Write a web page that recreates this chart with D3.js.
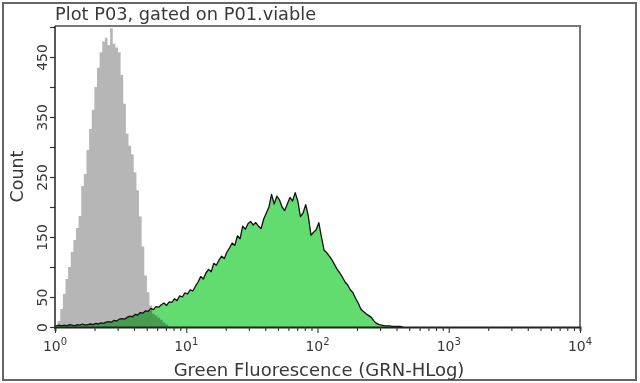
<!DOCTYPE html>
<html>
<head>
<meta charset="utf-8">
<script src="https://cdn.jsdelivr.net/npm/d3@7/dist/d3.min.js"></script>
<style>
  html, body { margin: 0; padding: 0; background: #fff; }
  svg { display: block; }
  text { font-family: "DejaVu Sans", Verdana, sans-serif; fill: #383838; }
</style>
</head>
<body>
<svg id="chart" width="640" height="383"></svg>
<script>
// ---- data ----
const title = "Plot P03, gated on P01.viable";
const xTitle = "Green Fluorescence (GRN-HLog)";
const yTitle = "Count";
const binsPerDecade = 50;           // histogram bin width = 1/50 decade, starting at 10^0
const xDecades = [1, 10, 100, 1000, 10000];
const yTickValues = [0, 50, 100, 150, 200, 250, 300, 350, 400, 450, 500];
const yTickLabels = [0, 50, 150, 250, 350, 450];

// control (gray) histogram counts per bin
const grayCounts = [
  0, 10, 30, 55, 80, 100, 125, 145, 165, 185,
  235, 255, 295, 330, 362, 400, 432, 458, 476, 482,
  470, 498, 472, 466, 458, 420, 372, 322, 302, 288,
  258, 228, 184, 134, 86, 58, 36, 22, 19, 16,
  12, 8, 4, 1, 0
];
// stained (green) histogram counts per bin
const greenCounts = [
  2, 3, 2, 3, 2, 4, 3, 2, 4, 3,
  5, 3, 4, 5, 4, 6, 5, 7, 6, 8,
  9, 8, 11, 10, 13, 14, 13, 16, 18, 17,
  21, 20, 24, 23, 27, 26, 31, 29, 34, 33,
  37, 40, 36, 42, 41, 47, 44, 52, 50, 57,
  55, 62, 60, 68, 75, 84, 80, 90, 96, 92,
  106, 103, 112, 118, 114, 125, 132, 140, 136, 152,
  147, 168, 163, 172, 176, 170, 174, 168, 164, 180,
  190, 200, 221, 205, 218, 212, 200, 194, 205, 216,
  210, 224, 210, 184, 190, 204, 185, 153, 158, 162,
  174, 150, 128, 124, 118, 112, 104, 96, 90, 83,
  75, 70, 62, 57, 48, 40, 30, 26, 22, 19,
  16, 10, 6, 4, 3, 2, 2, 2, 1, 1,
  1, 1, 0
];

// ---- layout ----
const svg = d3.select("#chart");
const W = 640, H = 383;
const plot = { left: 55, right: 580, top: 26, bottom: 327 };

const x = d3.scaleLog().domain([1, 1e4]).range([plot.left, plot.right]);
const y = d3.scaleLinear().domain([0, 500]).range([plot.bottom, plot.top + 1]);

const edge = i => Math.pow(10, i / binsPerDecade);

// outer frame
svg.append("rect")
  .attr("x", 3).attr("y", 3).attr("width", W - 7).attr("height", H - 6)
  .attr("fill", "none").attr("stroke", "#666").attr("stroke-width", 2);

// title
svg.append("text").attr("x", plot.left).attr("y", 20)
  .attr("font-size", 17.8).text(title);

// green histogram (fill)
const greenPts = greenCounts.map((c, i) => ({ v: Math.sqrt(edge(i) * edge(i + 1)), c }));
const greenArea = d3.area()
  .x(d => x(d.v)).y0(y(0)).y1(d => y(d.c)).curve(d3.curveLinear);
svg.append("path").datum(greenPts)
  .attr("d", greenArea).attr("fill", "#62dc6e");

// gray histogram (multiply over green)
const grayPts = grayCounts.map((c, i) => ({ v: edge(i), c }));
grayPts.push({ v: edge(grayCounts.length), c: 0 });
const grayArea = d3.area()
  .x(d => x(d.v)).y0(y(0)).y1(d => y(d.c)).curve(d3.curveStepAfter);
svg.append("path").datum(grayPts)
  .attr("d", grayArea).attr("fill", "#b6b6b6")
  .style("mix-blend-mode", "multiply");

// green outline
const greenLine = d3.line().x(d => x(d.v)).y(d => y(d.c)).curve(d3.curveLinear);
svg.append("path").datum([{ v: 1, c: greenCounts[0] }, ...greenPts])
  .attr("d", greenLine).attr("fill", "none")
  .attr("stroke", "#111").attr("stroke-width", 1.3).attr("stroke-linejoin", "round");

// plot frame (top/right)
svg.append("path")
  .attr("d", `M${plot.left},${plot.top}H${plot.right}V${plot.bottom}`)
  .attr("fill", "none").attr("stroke", "#777").attr("stroke-width", 2);

// y axis
const yAxis = d3.axisLeft(y).tickValues(yTickValues).tickSize(5)
  .tickFormat(d => yTickLabels.includes(d) ? d : "");
const gy = svg.append("g").attr("transform", `translate(${plot.left},0)`).call(yAxis);
gy.select(".domain").remove();
gy.selectAll(".tick line").attr("stroke", "#333").attr("stroke-width", 1.2);
gy.selectAll(".tick text")
  .attr("font-size", 14).attr("font-family", "DejaVu Sans, Verdana, sans-serif")
  .attr("fill", "#4a3a44")
  .attr("x", null).attr("dy", null)
  .attr("text-anchor", "middle")
  .attr("transform", "translate(-8,0) rotate(-90)");
svg.append("line")
  .attr("x1", plot.left).attr("x2", plot.left)
  .attr("y1", plot.top).attr("y2", plot.bottom + 2)
  .attr("stroke", "#222").attr("stroke-width", 1.5);

// x axis: major + minor ticks
const xTicks = [];
xDecades.forEach((d, k) => {
  if (k < xDecades.length - 1) for (let m = 1; m <= 9; m++) xTicks.push(d * m);
  else xTicks.push(d);
});
const xAxis = d3.axisBottom(x).tickValues(xTicks).tickFormat("").tickSizeOuter(0)
  .tickSize(4);
const gx = svg.append("g").attr("transform", `translate(0,${plot.bottom})`).call(xAxis);
gx.select(".domain").attr("stroke", "#222").attr("stroke-width", 1.8);
gx.selectAll(".tick line")
  .attr("stroke", "#333").attr("stroke-width", 1.1)
  .attr("y2", d => xDecades.includes(d) ? 6 : 4);

// x tick labels 10^n
const lab = svg.append("g");
xDecades.forEach(d => {
  const t = lab.append("text")
    .attr("x", x(d)).attr("y", 351)
    .attr("text-anchor", "middle").attr("font-size", 14).attr("fill", "#4a3a44");
  t.append("tspan").text("10");
  t.append("tspan").attr("dy", -6).attr("font-size", 10).text(Math.round(Math.log10(d)));
});

// axis titles
svg.append("text")
  .attr("x", 319).attr("y", 376)
  .attr("text-anchor", "middle").attr("font-size", 18).text(xTitle);
svg.append("text")
  .attr("transform", `translate(23,${(plot.top + plot.bottom) / 2}) rotate(-90)`)
  .attr("text-anchor", "middle").attr("font-size", 17.5).text(yTitle);
</script>
</body>
</html>
